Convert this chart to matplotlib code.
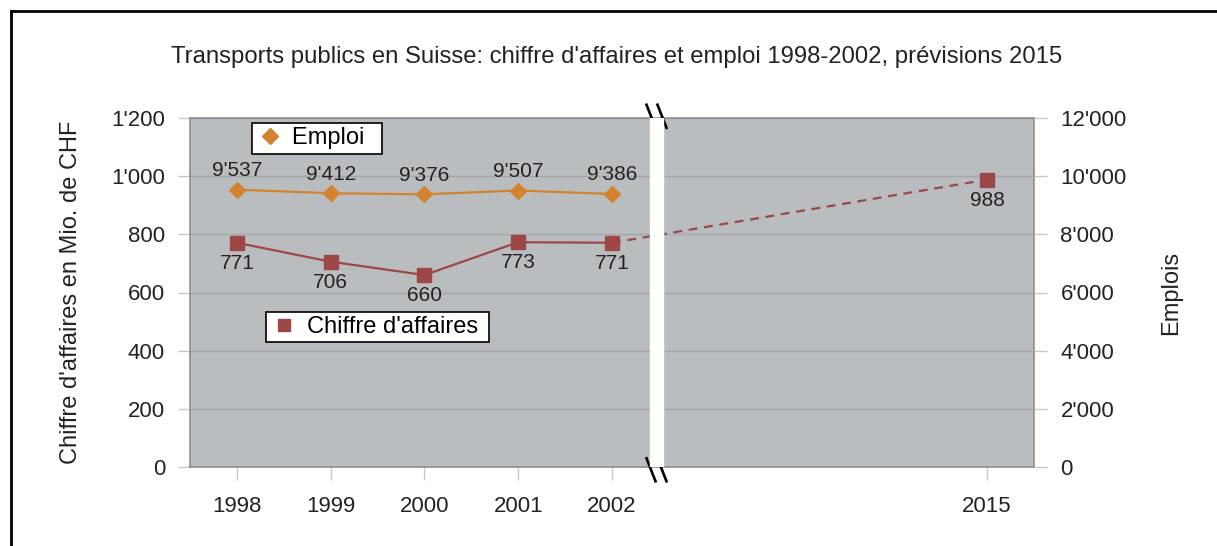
import matplotlib
matplotlib.use("Agg")
import matplotlib.pyplot as plt
from matplotlib.lines import Line2D
from matplotlib.ticker import FuncFormatter

plt.rcParams['font.family'] = ['Liberation Sans', 'DejaVu Sans']

years = ["1998", "1999", "2000", "2001", "2002", "2015"]
xpos = [0, 1, 2, 3, 4, 8]
emploi = [9537, 9412, 9376, 9507, 9386]
chiffre = [771, 706, 660, 773, 771]
chiffre_2015 = 988

title = "Transports publics en Suisse: chiffre d'affaires et emploi 1998-2002, prévisions 2015"

orange = "#d3822d"
red = "#9e4747"
bg = "#b9bdc0"
gridc = "#a3a7aa"
tickc = "#c8c8c8"
txt = "#222222"

def swiss(v, pos=None):
    return f"{int(round(v)):,}".replace(",", "'")

fig = plt.figure(figsize=(12.17, 5.46), dpi=100)
ax = fig.add_axes([190/1217, 1-467/546, (1034-190)/1217, (467-118)/546])
ax.set_facecolor(bg)
for s in ax.spines.values():
    s.set_color("#8c9092")
    s.set_linewidth(1.2)

ax.set_xlim(-0.5, 8.5)
ax.set_ylim(0, 1200)
ax.set_yticks(range(0, 1201, 200))
ax.yaxis.set_major_formatter(FuncFormatter(swiss))
ax.grid(axis='y', color=gridc, linewidth=1)
ax.set_axisbelow(True)
ax.set_xticks(xpos)
ax.set_xticklabels(years)
ax.tick_params(axis='both', colors=tickc, labelcolor=txt, labelsize=16, length=9, width=1)
ax.tick_params(axis='y', pad=9)
ax.tick_params(axis='x', pad=12)
ax.set_ylabel("Chiffre d'affaires en Mio. de CHF", fontsize=17, color=txt, labelpad=21)

ax2 = ax.twinx()
ax2.set_ylim(0, 12000)
ax2.set_yticks(range(0, 12001, 2000))
ax2.yaxis.set_major_formatter(FuncFormatter(swiss))
ax2.tick_params(axis='y', colors=tickc, labelcolor=txt, labelsize=16, length=9, width=1, pad=10)
for s in ax2.spines.values():
    s.set_visible(False)
ax2.set_ylabel("Emplois", fontsize=17, color=txt, labelpad=24)

# Chiffre d'affaires
ax.plot(xpos[:5], chiffre, color=red, lw=1.6, marker='s', ms=10, zorder=3,
        label="Chiffre d'affaires")
ax.plot([xpos[4], xpos[5]], [chiffre[-1], chiffre_2015], color=red, lw=1.6,
        ls=(0, (4, 3)), zorder=2)
ax.plot([xpos[5]], [chiffre_2015], color=red, marker='s', ms=10, ls='none', zorder=3)
for x, v in zip(xpos[:5] + [xpos[5]], chiffre + [chiffre_2015]):
    ax.annotate(swiss(v), (x, v), xytext=(0, -8), textcoords='offset points',
                ha='center', va='top', fontsize=15, color=txt, zorder=5)

# Emploi
ax2.plot(xpos[:5], emploi, color=orange, lw=1.6, marker='D', ms=8, zorder=3, label="Emploi")
for x, v in zip(xpos[:5], emploi):
    ax2.annotate(swiss(v), (x, v), xytext=(0, 7), textcoords='offset points',
                 ha='center', va='bottom', fontsize=15, color=txt)

# axis break band
ax2.axvspan(4.405, 4.545, color='white', zorder=10)
for yb, yc in ((1.0, 1.005), (0.0, -0.008)):
    for xc in (4.416, 4.533):
        ax.add_line(Line2D([xc - 0.048, xc + 0.048],
                           [yc + 0.033, yc - 0.033], transform=ax.get_xaxis_transform(),
                           color='black', lw=1.9, clip_on=False, zorder=11))

# legends
leg1 = ax2.legend([Line2D([], [], color=orange, marker='D', ms=8, ls='none')], ["Emploi  "],
                  loc='upper left', bbox_to_anchor=(0.073, 0.985), fontsize=17,
                  frameon=True, fancybox=False, edgecolor='black', framealpha=1,
                  handletextpad=0.35, borderpad=0.18, handlelength=1.2, borderaxespad=0)
leg1.get_frame().set_linewidth(1.2)
leg2 = ax2.legend([Line2D([], [], color=red, marker='s', ms=8, ls='none')], ["Chiffre d'affaires "],
                  loc='upper left', bbox_to_anchor=(0.09, 0.445), fontsize=17,
                  frameon=True, fancybox=False, edgecolor='black', framealpha=1,
                  handletextpad=0.35, borderpad=0.18, handlelength=1.2, borderaxespad=0)
leg2.get_frame().set_linewidth(1.2)
ax2.add_artist(leg1)

fig.text(617/1217, 1-57/546, title, ha='center', va='center', fontsize=17.2, color=txt)

# outer border (top and left)
fig.add_artist(Line2D([11/1217, 1.0], [1-11/546, 1-11/546], transform=fig.transFigure,
                      color='black', lw=2))
fig.add_artist(Line2D([11/1217, 11/1217], [0, 1-11/546], transform=fig.transFigure,
                      color='black', lw=2))

fig.savefig("out.png", dpi=100, facecolor='white')
